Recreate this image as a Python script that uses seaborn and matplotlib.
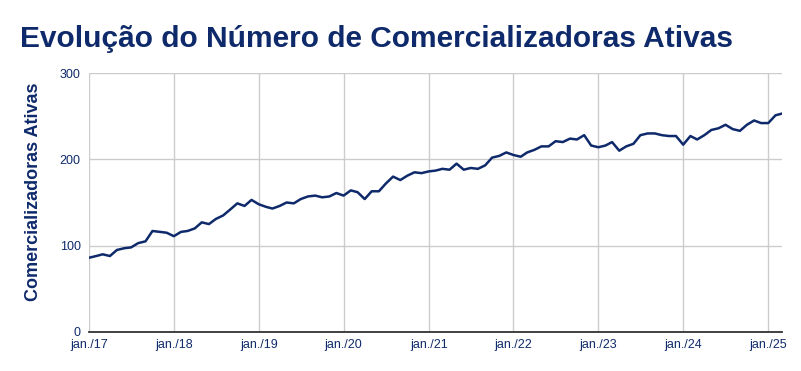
import matplotlib
matplotlib.use("Agg")
import matplotlib.pyplot as plt
import matplotlib.dates as mdates
from matplotlib.ticker import FuncFormatter
import pandas as pd
import seaborn as sns

navy = "#0f2a6b"

# monthly counts, jan/17 .. mar/25
v2017 = [86, 88, 90, 88, 95, 97, 98, 103, 105, 117, 116, 115]
v2018 = [111, 116, 117, 120, 127, 125, 131, 135, 142, 149, 146, 153]
v2019 = [148, 145, 143, 146, 150, 149, 154, 157, 158, 156, 157, 161]
v2020 = [158, 164, 162, 154, 163, 163, 172, 180, 176, 181, 185, 184]
v2021 = [186, 187, 189, 188, 195, 188, 190, 189, 193, 202, 204, 208]
v2022 = [205, 203, 208, 211, 215, 215, 221, 220, 224, 223, 228, 216]
v2023 = [214, 216, 220, 210, 215, 218, 228, 230, 230, 228, 227, 227]
v2024 = [217, 227, 223, 228, 234, 236, 240, 235, 233, 240, 245, 242]
v2025 = [242, 251, 253]

values = v2017 + v2018 + v2019 + v2020 + v2021 + v2022 + v2023 + v2024 + v2025
months = pd.date_range("2017-01-01", periods=len(values), freq="MS")
df = pd.DataFrame({"mes": months, "ativas": values})

sns.set_style("white")
plt.rcParams["font.family"] = ["Liberation Sans", "DejaVu Sans"]

fig = plt.figure(figsize=(8.01, 3.71), dpi=100)
ax = fig.add_axes([89 / 801, 39 / 371, 693 / 801, 259 / 371])

sns.lineplot(data=df, x="mes", y="ativas", ax=ax, color=navy, linewidth=1.8)

ax.set_xlim(months[0], months[-1])
ax.set_ylim(0, 300)
ax.set_yticks([0, 100, 200, 300])
ax.xaxis.set_major_locator(mdates.YearLocator())
ax.xaxis.set_major_formatter(FuncFormatter(lambda x, pos: "jan./" + mdates.num2date(x).strftime("%y")))

ax.grid(True, color="#cccccc", linewidth=1)
ax.set_axisbelow(True)
for s in ["left", "right", "top"]:
    ax.spines[s].set_visible(False)
ax.spines["bottom"].set_color("#333333")
ax.spines["bottom"].set_linewidth(1.3)

ax.tick_params(axis="both", length=0, labelsize=9, labelcolor=navy)
ax.tick_params(axis="y", pad=6)
ax.tick_params(axis="x", pad=5)

ax.set_xlabel("")
ax.set_ylabel("Comercializadoras Ativas", fontsize=13, fontweight="bold", color=navy)
ax.yaxis.set_label_coords(-47 / 693, 0.54)

fig.text(20 / 801, 1 - 47 / 371, "Evolução do Número de Comercializadoras Ativas",
         fontsize=21.5, fontweight="bold", color=navy, va="baseline", ha="left")

fig.savefig("out.png", dpi=100, facecolor="white")
